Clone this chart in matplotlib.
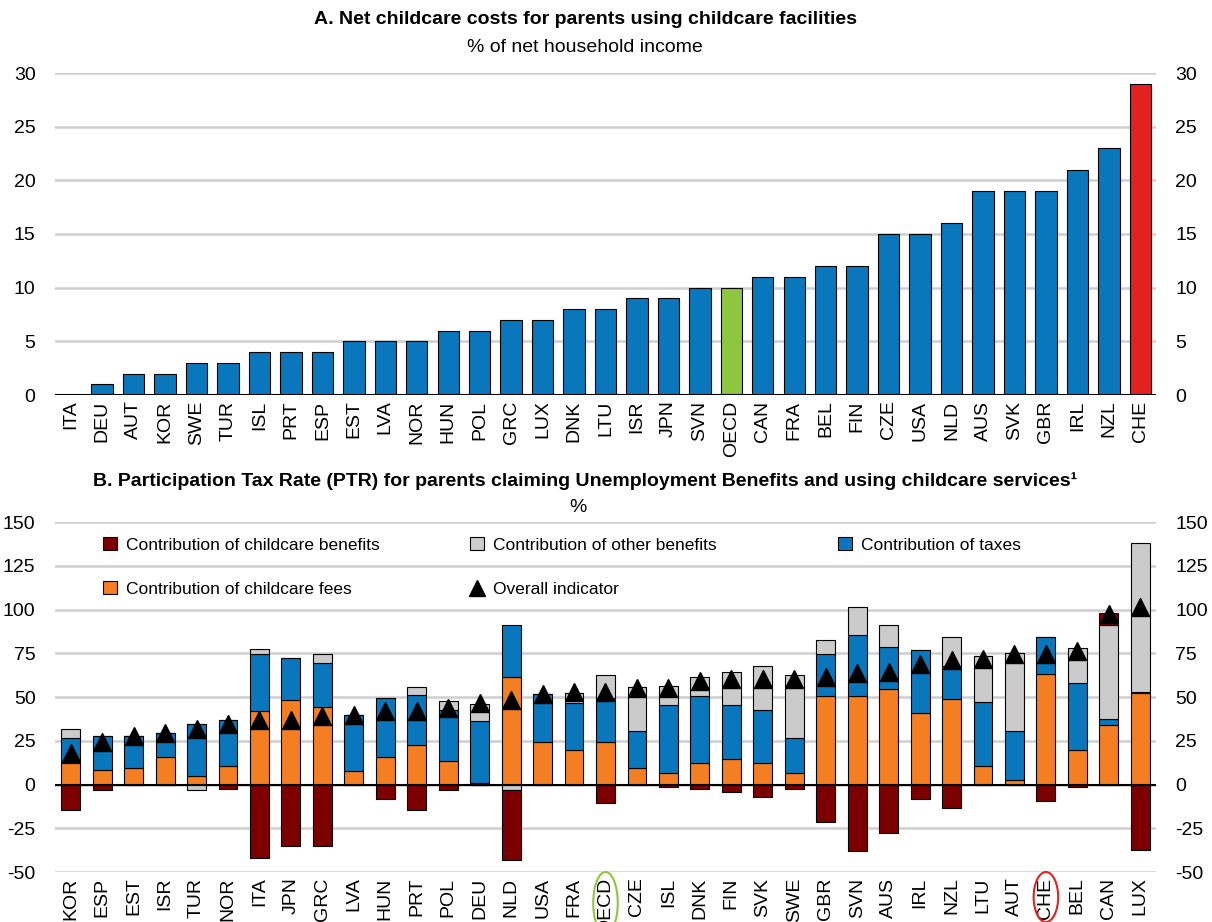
import matplotlib
matplotlib.use("Agg")
import matplotlib.pyplot as plt
import numpy as np
from matplotlib.patches import Ellipse, Patch
from matplotlib.lines import Line2D

plt.rcParams['font.family'] = ['Liberation Sans', 'DejaVu Sans']
plt.rcParams['axes.unicode_minus'] = False

# ---------------- Panel A data ----------------
a_countries = ["ITA", "DEU", "AUT", "KOR", "SWE", "TUR", "ISL", "PRT", "ESP", "EST", "LVA", "NOR",
               "HUN", "POL", "GRC", "LUX", "DNK", "LTU", "ISR", "JPN", "SVN", "OECD", "CAN", "FRA",
               "BEL", "FIN", "CZE", "USA", "NLD", "AUS", "SVK", "GBR", "IRL", "NZL", "CHE"]
a_costs = [0, 1, 2, 2, 3, 3, 4, 4, 4, 5, 5, 5, 6, 6, 7, 7, 8, 8, 9, 9, 10, 10, 11, 11,
           12, 12, 15, 15, 16, 19, 19, 19, 21, 23, 29]

# ---------------- Panel B data ----------------
b_countries = ["KOR", "ESP", "EST", "ISR", "TUR", "NOR", "ITA", "JPN", "GRC", "LVA", "HUN", "PRT",
               "POL", "DEU", "NLD", "USA", "FRA", "OECD", "CZE", "ISL", "DNK", "FIN", "SVK", "SWE",
               "GBR", "SVN", "AUS", "IRL", "NZL", "LTU", "AUT", "CHE", "BEL", "CAN", "LUX"]
childcare_fees = [12.2, 8.4, 9.3, 15.6, 4.6, 10.6, 41.8, 48.5, 44.3, 7.6, 15.6, 22.4,
                  13.5, 0.6, 61.2, 24.5, 19.6, 24.5, 9.7, 6.5, 12.5, 14.4, 12.5, 6.5,
                  50.4, 50.4, 54.4, 40.6, 48.9, 10.7, 2.7, 63.0, 19.9, 33.9, 52.1]
taxes = [14.4, 19.2, 18.3, 14.1, 29.8, 26.1, 32.5, 23.7, 24.9, 31.9, 33.8, 28.9,
         29.1, 35.9, 30.1, 27.5, 26.8, 25.0, 20.7, 38.9, 37.9, 31.0, 30.1, 20.1,
         23.9, 35.0, 23.9, 36.4, 19.1, 36.2, 28.1, 21.3, 38.1, 3.3, 1.0]
other_benefits = [5.1, 0, 0, 0, -3.2, 0, 3.1, 0, 5.1, 0, 0, 4.2,
                  5.1, 9.5, -3.2, 0, 6.1, 12.9, 25.1, 11.1, 11.0, 19.0, 24.9, 35.8,
                  8.0, 15.9, 13.0, 0, 16.3, 26.3, 44.3, 0, 20.0, 53.8, 85.0]
childcare_benefits = [-14.3, -3.2, 0, 0, 0, -2.3, -42.2, -35.4, -35.4, 0, -8.4, -14.3,
                      -3.2, -0.5, -40.0, 0, 0, -10.3, 0, -1.3, -2.3, -4.4, -7.4, -2.3,
                      -21.3, -37.8, -27.9, -8.2, -13.4, 0, 0, -9.2, -1.3, 7.1, -37.4]
overall = [17.8, 24.5, 27.6, 29.7, 31.7, 34.6, 36.7, 36.7, 39.4, 39.5, 41.8, 41.8,
           43.7, 46.6, 48.5, 51.5, 52.6, 52.6, 55.4, 55.4, 59.4, 60.4, 60.4, 60.4,
           61.4, 63.6, 64.5, 69.1, 71.0, 71.9, 74.8, 74.8, 76.3, 97.4, 101.2]

# ---------------- style ----------------
BLUE = "#0a77bd"
ORANGE = "#f47e22"
GREY = "#cbcbcb"
MAROON = "#7d0000"
GREEN = "#8dc63f"
RED = "#e3211f"
GRID = "#cfcfcf"
FS = 14

W, H = 1212, 922
fig = plt.figure(figsize=(W / 100, H / 100), dpi=100)

def fx(px):
    return px / W

def fy(py):
    return 1 - py / H

left, right = 55, 1156

# ---------------- Panel A ----------------
axA = fig.add_axes([fx(left), fy(395), fx(right - left), fy(73) - fy(395)])
xa = np.arange(len(a_countries))
colorsA = [GREEN if c == "OECD" else RED if c == "CHE" else BLUE for c in a_countries]
axA.bar(xa, a_costs, width=0.68, color=colorsA, edgecolor="black", linewidth=0.8, zorder=3)
axA.set_xlim(-0.5, len(a_countries) - 0.5)
axA.set_ylim(0, 30)
axA.set_yticks(range(0, 31, 5))
axA.yaxis.grid(True, color=GRID, linewidth=1.8, zorder=0)
axA.set_axisbelow(True)
axA.axhline(0, color="black", linewidth=1.5, zorder=4)
for s in axA.spines.values():
    s.set_visible(False)
axA.set_xticks(xa)
axA.set_xticklabels(a_countries, rotation=90, fontsize=FS)
axA.tick_params(axis="both", length=0, labelsize=FS)
axA.tick_params(axis="x", pad=4)
axA.tick_params(axis="y", labelright=True, pad=14)

fig.text(fx(585), fy(20), "A. Net childcare costs for parents using childcare facilities",
         ha="center", va="center", fontsize=FS, fontweight="bold")
fig.text(fx(585), fy(48), "% of net household income", ha="center", va="center", fontsize=FS)

# ---------------- Panel B ----------------
axB = fig.add_axes([fx(left), fy(872), fx(right - left), fy(522) - fy(872)])
xb = np.arange(len(b_countries))
pos_base = np.zeros(len(b_countries))
neg_base = np.zeros(len(b_countries))
series = [(childcare_fees, ORANGE), (taxes, BLUE), (other_benefits, GREY), (childcare_benefits, MAROON)]
for vals, col in series:
    v = np.array(vals, dtype=float)
    bottoms = np.where(v >= 0, pos_base, neg_base)
    axB.bar(xb, v, width=0.6, bottom=bottoms, color=col, edgecolor="black", linewidth=0.8, zorder=3)
    pos_base = pos_base + np.where(v > 0, v, 0)
    neg_base = neg_base + np.where(v < 0, v, 0)
axB.plot(xb, overall, linestyle="none", marker="^", markersize=13.5, color="black", zorder=5)

axB.set_xlim(-0.5, len(b_countries) - 0.5)
axB.set_ylim(-50, 150)
axB.set_yticks(range(-50, 151, 25))
axB.yaxis.grid(True, color=GRID, linewidth=1.8, zorder=0)
axB.set_axisbelow(True)
axB.axhline(0, color="black", linewidth=1.5, zorder=4)
for s in axB.spines.values():
    s.set_visible(False)
axB.set_xticks(xb)
axB.set_xticklabels(b_countries, rotation=90, fontsize=FS)
axB.tick_params(axis="both", length=0, labelsize=FS)
axB.tick_params(axis="x", pad=4)
axB.tick_params(axis="y", labelright=True, pad=14)

fig.text(fx(585), fy(481),
         "B. Participation Tax Rate (PTR) for parents claiming Unemployment Benefits and using childcare services\u00b9",
         ha="center", va="center", fontsize=FS, fontweight="bold")
fig.text(fx(578), fy(508), "%", ha="center", va="center", fontsize=FS)

# ellipses around OECD and CHE labels
trans = matplotlib.transforms.blended_transform_factory(axB.transData, axB.transAxes)
bh = 872 - 522
i_oecd = b_countries.index("OECD")
i_che = b_countries.index("CHE")
axB.add_patch(Ellipse((i_oecd, (872 - 903) / bh), 0.78, 62 / bh, transform=trans, fill=False,
                      edgecolor=GREEN, linewidth=1.5, clip_on=False))
axB.add_patch(Ellipse((i_che, (872 - 897) / bh), 0.78, 50 / bh, transform=trans, fill=False,
                      edgecolor=RED, linewidth=1.5, clip_on=False))

# legend (three columns, placed individually)
def sq(col):
    return Patch(facecolor=col, edgecolor="black", linewidth=0.8)

tri = Line2D([], [], linestyle="none", marker="^", markersize=11, color="black")
LFS = 12.5
leg_kw = dict(frameon=False, fontsize=LFS, handlelength=0.78, handleheight=0.78,
              handletextpad=0.55, borderpad=0, borderaxespad=0, labelspacing=1.65,
              loc="upper left", bbox_transform=fig.transFigure)
l1 = fig.legend([sq(MAROON), sq(ORANGE)],
                ["Contribution of childcare benefits", "Contribution of childcare fees"],
                bbox_to_anchor=(fx(103), fy(537)), **leg_kw)
l2 = fig.legend([sq(GREY), tri],
                ["Contribution of other benefits", "Overall indicator"],
                bbox_to_anchor=(fx(470), fy(537)), **leg_kw)
l3 = fig.legend([sq(BLUE)], ["Contribution of taxes"],
                bbox_to_anchor=(fx(838), fy(537)), **leg_kw)

fig.savefig("out.png", dpi=100)
